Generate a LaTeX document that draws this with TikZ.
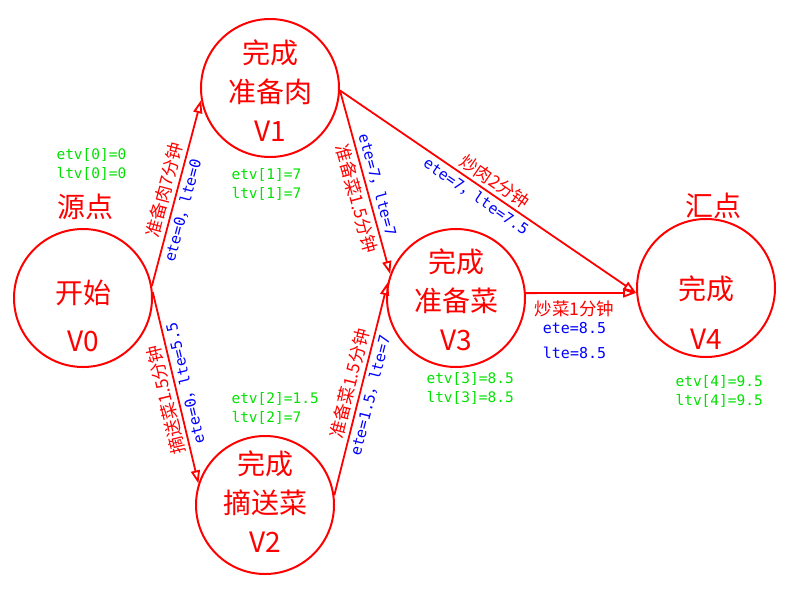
\documentclass[tikz,border=0pt]{standalone}
\usepackage{fontspec}
\newfontfamily\cjk{Noto Sans CJK SC}
\newfontfamily\mono{DejaVu Sans Mono}
\usetikzlibrary{arrows.meta}
\definecolor{myred}{RGB}{255,0,0}
\definecolor{mygreen}{RGB}{0,225,0}
\definecolor{myblue}{RGB}{0,0,255}
\newcommand{\zhcomma}{{\cjk ，}}

\begin{document}
\begin{tikzpicture}[x=1pt, y=-1pt]

		% Define basic styles
		\tikzset{
			state/.style={
				circle, draw=myred, line width=2pt,
				minimum size=138pt, inner sep=0pt
			},
			statetext/.style={
				text=myred, align=center,
				font=\cjk\fontsize{28}{39}\selectfont
			},
			endlabel/.style={
				text=myred, font=\cjk\fontsize{28}{34}\selectfont
			},
			flow/.style={
				draw=myred, line width=1.8pt,
				-{Triangle[open, length=13pt, width=9pt]}
			},
			task/.style={
				text=myred, sloped, inner sep=3.5pt,
				font=\cjk\fontsize{17.5}{20}\selectfont
			},
			times/.style={
				text=myblue, sloped, inner sep=3.5pt,
				font=\mono\fontsize{15}{18}\selectfont
			},
			vtime/.style={
				text=mygreen, align=left, anchor=west,
				font=\mono\fontsize{14.5}{19}\selectfont
			}
		}

		\useasboundingbox (0,0) rectangle (800,600);

		% Nodes
		\node[state] (v0) at (83,298) {};
		\node[state] (v1) at (270,88) {};
		\node[state] (v2) at (265,505) {};
		\node[state] (v3) at (456,298) {};
		\node[state] (v4) at (706,288) {};

		\node[statetext, yshift=-18pt] (v0text) at (v0) {开始\\[9pt]V0};
		\node[statetext, yshift=-3pt] (v1text) at (v1) {完成\\准备肉\\V1};
		\node[statetext, yshift=3pt] (v2text) at (v2) {完成\\摘送菜\\V2};
		\node[statetext, yshift=-2pt] (v3text) at (v3) {完成\\准备菜\\V3};
		\node[statetext, yshift=-25pt] (v4text) at (v4) {完成\\[11pt]V4};

		\node[endlabel] (source) at (85,207) {源点};
		\node[endlabel] (sink) at (713,206) {汇点};

		\node[vtime] (time0) at (53,164) {etv[0]=0\\ltv[0]=0};
		\node[vtime] (time1) at (228,184) {etv[1]=7\\ltv[1]=7};
		\node[vtime] (time2) at (228,408) {etv[2]=1.5\\ltv[2]=7};
		\node[vtime] (time3) at (423,388) {etv[3]=8.5\\ltv[3]=8.5};
		\node[vtime] (time4) at (672,391) {etv[4]=9.5\\ltv[4]=9.5};

		% Arrows
		\draw[flow] (v0.10) -- node[task, above, pos=0.5] (task01) {准备肉7分钟}
			node[times, below, pos=0.42] (edge01) {ete=0\zhcomma lte=0} (v1.190);
		\draw[flow] (v0.5) -- node[task, above, rotate=180, pos=0.55] (task02) {摘送菜1.5分钟}
			node[times, below, rotate=180, pos=0.49] (edge02) {ete=0\zhcomma lte=5.5} (v2.162);
		\draw[flow] (v1.-2) -- node[task, below, pos=0.57] (task13) {准备菜1.5分钟}
			node[times, above, pos=0.53] (edge13) {ete=7\zhcomma lte=7} (v3.160);
		\draw[flow] (v2.8) -- node[task, above, pos=0.51] (task23) {准备菜1.5分钟}
			node[times, below, pos=0.48] (edge23) {ete=1.5\zhcomma lte=7} (v3.167);
		\draw[flow] (v1.-2) -- node[task, above, pos=0.5] (task14) {炒肉2分钟}
			node[times, below, pos=0.48] (edge14) {ete=7\zhcomma lte=7.5} (v4.184);
		\draw[flow] (v3.4) -- node[task, below=3pt, pos=0.44] (task34) {炒菜1分钟}
			node[times, below=25pt, align=center, pos=0.44] (edge34) {ete=8.5\\[7pt]lte=8.5} (v4.184);

	\end{tikzpicture}
\end{document}
